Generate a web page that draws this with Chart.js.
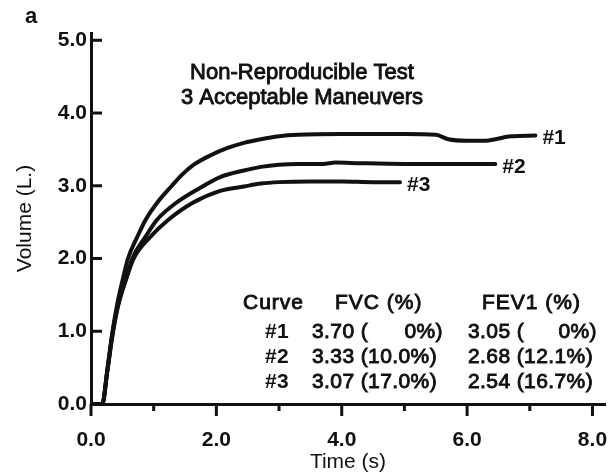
<!DOCTYPE html>
<html>
<head>
<meta charset="utf-8">
<script src="https://cdn.jsdelivr.net/npm/chart.js@4/dist/chart.umd.min.js"></script>
<style>
html, body { margin: 0; padding: 0; background: #fff; }
canvas { display: block; }
</style>
</head>
<body>
<canvas id="myChart" width="611" height="475"></canvas>
<script>
// spirometry volume-time curves
var curveNames = ['#1', '#2', '#3'];

var time1 = [0, 0.18, 0.26, 0.34, 0.42, 0.52, 0.59, 0.74, 0.87, 1.05, 1.29, 1.45, 1.64, 1.91, 2.18, 2.44, 2.71, 3.0, 3.3, 4.0, 5.0, 5.5, 5.7, 6.0, 6.3, 6.45, 6.7, 7.09];
var vol1  = [0, 0, 0.47, 0.98, 1.38, 1.76, 2.0, 2.3, 2.53, 2.76, 3.0, 3.15, 3.29, 3.42, 3.52, 3.59, 3.64, 3.68, 3.7, 3.71, 3.71, 3.7, 3.64, 3.62, 3.62, 3.64, 3.68, 3.69];

var time2 = [0, 0.18, 0.26, 0.34, 0.43, 0.57, 0.66, 0.87, 1.05, 1.35, 1.8, 2.06, 2.44, 2.71, 3.0, 3.3, 3.7, 3.9, 4.3, 5.0, 5.8, 6.45];
var vol2  = [0, 0, 0.45, 0.95, 1.36, 1.75, 2.0, 2.3, 2.53, 2.76, 3.0, 3.12, 3.21, 3.26, 3.29, 3.3, 3.3, 3.32, 3.31, 3.3, 3.3, 3.3];

var time3 = [0, 0.18, 0.26, 0.34, 0.43, 0.57, 0.68, 0.95, 1.23, 1.61, 2.06, 2.44, 2.71, 3.0, 3.5, 4.0, 4.5, 4.93];
var vol3  = [0, 0, 0.45, 0.93, 1.34, 1.74, 2.0, 2.3, 2.53, 2.76, 2.93, 2.99, 3.03, 3.05, 3.06, 3.06, 3.05, 3.05];

var xTicks = [0, 2, 4, 6, 8];
var xMinor = [1, 3, 5, 7];
var yTicks = [0, 1, 2, 3, 4, 5];

var titleLines = ['Non-Reproducible Test', '3 Acceptable Maneuvers'];
var tableHeader = ['Curve', 'FVC (%)', 'FEV1 (%)'];
var fvc = [3.70, 3.33, 3.07];
var fvcPct = ['0%', '10.0%', '17.0%'];
var fev1 = [3.05, 2.68, 2.54];
var fev1Pct = ['0%', '12.1%', '16.7%'];

var ink = '#111';
var fontName = '"Liberation Sans", Arial, sans-serif';

function toPoints(ts, vs) {
  return ts.map(function (t, i) { return { x: t, y: vs[i] }; });
}

function lineDs(ts, vs) {
  return {
    data: toPoints(ts, vs),
    borderColor: ink,
    borderWidth: 4,
    pointRadius: 0,
    fill: false,
    cubicInterpolationMode: 'monotone',
    borderCapStyle: 'round',
    borderJoinStyle: 'round'
  };
}

function heavyText(ctx, s, x, y) {
  ctx.fillText(s, x, y);
  ctx.strokeText(s, x, y);
}

// draws "value (pct)" - a zero row keeps the blank gap like the print
function cell(ctx, value, pct, x, xr, y) {
  if (pct === '0%') {
    ctx.textAlign = 'left';
    heavyText(ctx, value.toFixed(2) + ' (', x, y);
    ctx.textAlign = 'right';
    heavyText(ctx, pct + ')', xr, y);
  } else {
    ctx.textAlign = 'left';
    heavyText(ctx, value.toFixed(2) + ' (' + pct + ')', x, y);
  }
}

// ticks, labels and the little table are drawn on top of the chart
var extras = {
  id: 'extras',
  afterDraw: function (chart) {
    var ctx = chart.ctx;
    var xs = chart.scales.x, ys = chart.scales.y;
    var left = xs.left, bottom = ys.bottom;
    ctx.save();
    ctx.strokeStyle = ink;
    ctx.fillStyle = ink;
    ctx.lineWidth = 3;

    yTicks.forEach(function (v) {
      var p = ys.getPixelForValue(v);
      ctx.beginPath(); ctx.moveTo(left, p); ctx.lineTo(left + 11, p); ctx.stroke();
    });
    xTicks.forEach(function (v) {
      var p = xs.getPixelForValue(v);
      ctx.beginPath(); ctx.moveTo(p, bottom); ctx.lineTo(p, bottom + 12); ctx.stroke();
    });
    xMinor.forEach(function (v) {
      var p = xs.getPixelForValue(v);
      ctx.beginPath(); ctx.moveTo(p, bottom); ctx.lineTo(p, bottom + 7); ctx.stroke();
    });

    ctx.textBaseline = 'middle';
    ctx.lineWidth = 0.9;

    ctx.font = 'bold 22px ' + fontName;
    ctx.textAlign = 'left';
    ctx.fillText('a', 25, 17);

    ctx.font = '22px ' + fontName;
    ctx.textAlign = 'center';
    titleLines.forEach(function (s, i) {
      heavyText(ctx, s, 302, 73 + i * 25);
    });

    // curve labels sit just past each line's last point
    ctx.font = 'bold 21px ' + fontName;
    ctx.textAlign = 'left';
    curveNames.forEach(function (n, i) {
      var pts = chart.getDatasetMeta(i).data;
      var last = pts[pts.length - 1];
      ctx.fillText(n, last.x + 7, last.y + 3);
    });

    // table
    ctx.font = '21px ' + fontName;
    ctx.letterSpacing = '1px';
    ctx.textAlign = 'left';
    var hx = [243, 335, 482];
    tableHeader.forEach(function (h, i) {
      heavyText(ctx, h, hx[i], 303);
    });
    ctx.letterSpacing = '0.4px';
    for (var r = 0; r < curveNames.length; r++) {
      var y = 332 + r * 25;
      ctx.font = 'bold 21px ' + fontName;
      ctx.textAlign = 'left';
      ctx.fillText(curveNames[r], 265, y);
      ctx.font = '21px ' + fontName;
      cell(ctx, fvc[r], fvcPct[r], 312, 443, y);
      cell(ctx, fev1[r], fev1Pct[r], 468, 597, y);
    }
    ctx.restore();
  }
};

var ctx = document.getElementById('myChart').getContext('2d');
var myChart = new Chart(ctx, {
  type: 'line',
  data: {
    datasets: [lineDs(time1, vol1), lineDs(time2, vol2), lineDs(time3, vol3)]
  },
  plugins: [extras],
  options: {
    responsive: false,
    animation: false,
    devicePixelRatio: 1,
    layout: { padding: { top: 33, right: 6, left: 0, bottom: 0 } },
    plugins: { legend: { display: false }, tooltip: { enabled: false } },
    scales: {
      x: {
        type: 'linear',
        min: 0,
        max: 8.2,
        afterBuildTicks: function (s) { s.ticks = xTicks.map(function (v) { return { value: v }; }); },
        afterFit: function (s) { s.height = 71; s.paddingLeft = 0; s.paddingRight = 0; },
        grid: { display: false, drawTicks: false },
        border: { display: true, width: 3, color: ink },
        ticks: {
          color: ink,
          padding: 24,
          maxRotation: 0,
          font: { family: fontName, size: 21, weight: 'bold' },
          callback: function (v) { return Number(v).toFixed(1); }
        },
        title: {
          display: true,
          text: 'Time (s)',
          color: ink,
          padding: 0,
          font: { family: fontName, size: 21, lineHeight: 1.2 }
        }
      },
      y: {
        min: 0,
        max: 5.1,
        afterBuildTicks: function (s) { s.ticks = yTicks.map(function (v) { return { value: v }; }); },
        afterFit: function (s) { s.width = 91; s.paddingTop = 0; s.paddingBottom = 0; },
        grid: { display: false, drawTicks: false },
        border: { display: true, width: 3, color: ink },
        ticks: {
          color: ink,
          padding: 4,
          font: { family: fontName, size: 21, weight: 'bold' },
          callback: function (v) { return Number(v).toFixed(1); }
        },
        title: {
          display: true,
          text: 'Volume (L.)',
          color: ink,
          padding: 13,
          font: { family: fontName, size: 21, lineHeight: 1.2 }
        }
      }
    }
  }
});
</script>
</body>
</html>
